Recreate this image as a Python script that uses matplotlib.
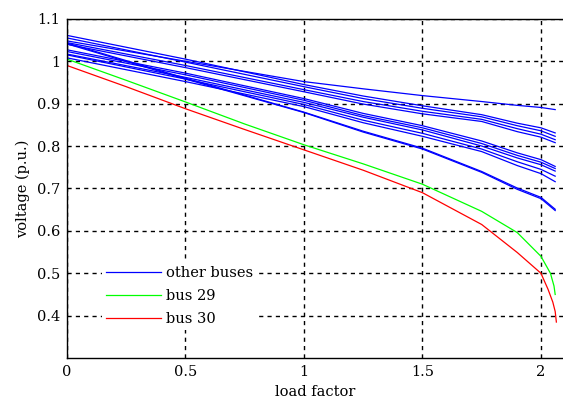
"""
Voltage profile vs. load factor
===============================
Bus voltages of the 30-bus system as the load factor is increased.
Buses 29 and 30 are highlighted, all other buses drawn in blue.
"""

import matplotlib
matplotlib.use("Agg")
import matplotlib.pyplot as plt

# ---------------------------------------------------------------------------
# Data
# ---------------------------------------------------------------------------
LOAD_BLUE = [0.0, 0.5, 1.0, 1.25, 1.5, 1.75, 1.9, 2.0, 2.06]

OTHER_BUSES = [
    [1.048, 1.000, 0.952, 0.935, 0.919, 0.905, 0.896, 0.891, 0.886],
    [1.061, 1.005, 0.945, 0.918, 0.895, 0.874, 0.854, 0.843, 0.831],
    [1.055, 0.998, 0.940, 0.912, 0.889, 0.869, 0.848, 0.836, 0.823],
    [1.044, 0.990, 0.933, 0.905, 0.882, 0.863, 0.841, 0.828, 0.815],
    [1.040, 0.985, 0.928, 0.899, 0.876, 0.858, 0.834, 0.821, 0.808],
    [1.027, 0.972, 0.912, 0.877, 0.848, 0.812, 0.784, 0.768, 0.752],
    [1.023, 0.968, 0.908, 0.872, 0.843, 0.806, 0.778, 0.762, 0.747],
    [1.017, 0.962, 0.903, 0.868, 0.838, 0.800, 0.772, 0.756, 0.741],
    [1.015, 0.958, 0.898, 0.861, 0.830, 0.793, 0.763, 0.745, 0.729],
    [1.008, 0.952, 0.893, 0.855, 0.823, 0.787, 0.754, 0.735, 0.716],
    [1.043, 0.960, 0.880, 0.835, 0.795, 0.740, 0.701, 0.679, 0.651],
    [1.041, 0.958, 0.879, 0.833, 0.793, 0.738, 0.698, 0.676, 0.648],
]

LOAD_BUS29 = [0.0, 0.25, 0.5, 0.75, 1.0, 1.25, 1.5, 1.75, 1.9, 2.0, 2.04, 2.055, 2.06]
BUS29 = [1.005, 0.955, 0.904, 0.852, 0.803, 0.758, 0.710, 0.646, 0.596, 0.540, 0.500, 0.470, 0.450]

LOAD_BUS30 = [0.0, 0.25, 0.5, 0.75, 1.0, 1.25, 1.5, 1.75, 1.9, 2.0, 2.03, 2.05, 2.06, 2.065]
BUS30 = [0.990, 0.940, 0.888, 0.839, 0.791, 0.743, 0.690, 0.615, 0.549, 0.500, 0.462, 0.432, 0.410, 0.385]

X_TICKS = [0, 0.5, 1, 1.5, 2]
X_TICK_LABELS = ["0", "0.5", "1", "1.5", "2"]
Y_TICKS = [0.4, 0.5, 0.6, 0.7, 0.8, 0.9, 1.0, 1.1]
Y_TICK_LABELS = ["0.4", "0.5", "0.6", "0.7", "0.8", "0.9", "1", "1.1"]

# ---------------------------------------------------------------------------
# Plot
# ---------------------------------------------------------------------------
plt.rcParams["font.family"] = ["DejaVu Serif"]
plt.rcParams["font.size"] = 10.5

fig = plt.figure(figsize=(5.63, 4.01), dpi=100)
ax = fig.add_axes([0.119, 0.107, 0.881, 0.846])

blue_handle = None
for volts in OTHER_BUSES:
    (line,) = ax.plot(LOAD_BLUE, volts, color="#0000ff", lw=0.9)
    if blue_handle is None:
        blue_handle = line
(green_handle,) = ax.plot(LOAD_BUS29, BUS29, color="#00ff00", lw=0.9)
(red_handle,) = ax.plot(LOAD_BUS30, BUS30, color="#ff0000", lw=0.9)

ax.set_xlim(0, 2.093)
ax.set_ylim(0.3, 1.1)
ax.set_xticks(X_TICKS)
ax.set_xticklabels(X_TICK_LABELS)
ax.set_yticks(Y_TICKS)
ax.set_yticklabels(Y_TICK_LABELS)
ax.tick_params(length=0, pad=5)

ax.grid(True, color="black", linestyle=(0, (3, 3)), lw=1.0)
ax.set_axisbelow(True)
for side in ("left", "bottom", "top"):
    ax.spines[side].set_linewidth(1.0)
ax.spines["right"].set_visible(False)

ax.set_xlabel("load factor", labelpad=4)
ax.set_ylabel("voltage (p.u.)", labelpad=5)

leg = ax.legend(
    [blue_handle, green_handle, red_handle],
    ["other buses", "bus 29", "bus 30"],
    loc="lower left",
    bbox_to_anchor=(0.055, 0.06),
    frameon=True,
    fancybox=False,
    edgecolor="none",
    facecolor="white",
    framealpha=1.0,
    handlelength=3.8,
    handletextpad=0.35,
    labelspacing=0.62,
    borderpad=0.3,
)

fig.savefig("out.png", dpi=100)
